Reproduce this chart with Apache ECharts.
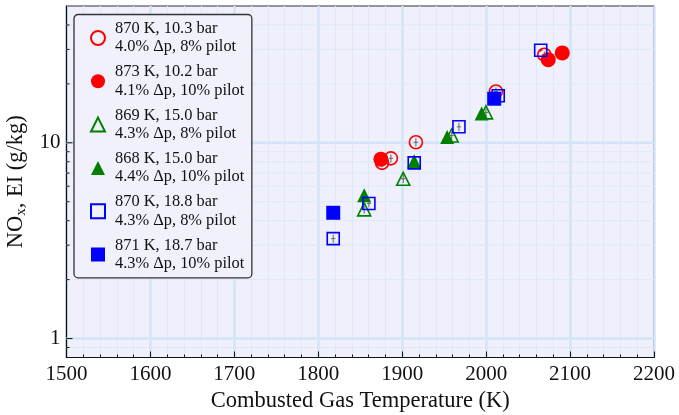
<!DOCTYPE html>
<html><head><meta charset="utf-8">
<script src="https://cdn.jsdelivr.net/npm/echarts@6/dist/echarts.min.js"></script>
<style>html,body{margin:0;padding:0;background:#fff}#c{width:679px;height:415px}</style>
</head><body><div id="c"></div>
<script>
// ---- data ----
const seriesNames = [
  '870 K, 10.3 bar\n4.0% Δp, 8% pilot',
  '873 K, 10.2 bar\n4.1% Δp, 10% pilot',
  '869 K, 15.0 bar\n4.3% Δp, 8% pilot',
  '868 K, 15.0 bar\n4.4% Δp, 10% pilot',
  '870 K, 18.8 bar\n4.3% Δp, 8% pilot',
  '871 K, 18.7 bar\n4.3% Δp, 10% pilot'
];
// [temperature K, NOx EI g/kg]
const openRed    = [[1876, 7.9], [1886.5, 8.33], [1916.3, 10.07], [2011.7, 18.3], [2069.3, 28.2]];
const filledRed  = [[1874.6, 8.25], [2074, 26.6], [2090.7, 28.8]];
const openGreen  = [[1854.7, 4.57], [1901.2, 6.55], [1958.9, 10.9], [1999.8, 14.3]];
const filledGreen= [[1854.7, 5.39], [1914.3, 8.06], [1953.6, 10.7], [1994.6, 14.1]];
const openBlue   = [[1817.8, 3.24], [1860.3, 4.9], [1914.3, 7.9], [1967.6, 12.07], [2014.4, 17.4], [2065, 29.7]];
const filledBlue = [[1817.8, 4.39], [2009.6, 16.8]];
// estimated error bars (NOx EI, +/- g/kg) for open-marker points
const openRedErr   = [0.4, 0.4, 0.5, 0.9, 1.0];
const openGreenErr = [0.22, 0.32, 0.5, 0.6];
const openBlueErr  = [0.16, 0.22, 0.35, 0.6, 0.5, 0.6];
const xTicks = [1500, 1600, 1700, 1800, 1900, 2000, 2100, 2200];
const yMajorTicks = [1, 10];
const yMinorTicks = [0.9, 2, 3, 4, 5, 6, 7, 8, 9, 20, 30, 40];

const FONT = 'Liberation Serif';
const RED = '#ff0000', GREEN = '#008000', BLUE = '#0000ff';
const X0 = xTicks[0];

function errData(pts, errs) { return pts.map((p, i) => [p[0], p[1], errs[i]]); }
const errAll = [].concat(errData(openRed, openRedErr), errData(openGreen, openGreenErr), errData(openBlue, openBlueErr));

const yGridData = yMajorTicks.map(v => [X0, v, 1]).concat(yMinorTicks.map(v => [X0, v, 0]));

function scatter(name, data, symbol, color, open, size) {
  return {
    name, type: 'scatter', data, symbol, symbolSize: size, z: 5,
    itemStyle: open ? { color: 'rgba(0,0,0,0)', borderColor: color, borderWidth: 1.6, opacity: 1 }
                    : { color: color, borderWidth: 0, opacity: 1 },
    emphasis: { disabled: true }
  };
}

const chart = echarts.init(document.getElementById('c'), null, { renderer: 'canvas' });
chart.setOption({
  animation: false,
  backgroundColor: '#ffffff',
  grid: { left: 66.5, right: 25, top: 6, bottom: 57.5, containLabel: false, outerBoundsMode: 'none',
          show: true, backgroundColor: '#eff0fb', borderColor: '#333', borderWidth: 1.2 },
  xAxis: {
    type: 'value', min: xTicks[0], max: xTicks[xTicks.length - 1], interval: 100,
    name: 'Combusted Gas Temperature (K)', nameLocation: 'middle', nameGap: 30,
    nameTextStyle: { fontFamily: FONT, fontSize: 22.5, color: '#111' },
    axisLine: { show: true, lineStyle: { color: '#111', width: 1.2 } },
    axisTick: { show: true, inside: true, length: 6, lineStyle: { color: '#111', width: 1 } },
    minorTick: { show: true, splitNumber: 5, length: 3, lineStyle: { color: '#111', width: 1 } },
    axisLabel: { fontFamily: FONT, fontSize: 21, color: '#111', margin: 6, formatter: v => String(v) },
    splitLine: { show: true, lineStyle: { color: '#d3e4f8', width: 2.5 } },
    minorSplitLine: { show: true, lineStyle: { color: '#dde9f9', width: 1 } }
  },
  yAxis: {
    type: 'log', logBase: 10, min: 0.8, max: 50,
    name: '{a|NO}{s|x}{a|, EI (g/kg)}', nameLocation: 'middle', nameGap: 33,
    nameTextStyle: { color: '#111', rich: {
      a: { fontFamily: FONT, fontSize: 22.5, color: '#111' },
      s: { fontFamily: FONT, fontSize: 15, color: '#111', padding: [10, 0, 0, 0] }
    } },
    axisLine: { show: true, lineStyle: { color: '#111', width: 1.2 } },
    axisTick: { show: false },
    splitLine: { show: false },
    axisLabel: { fontFamily: FONT, fontSize: 21, color: '#111', margin: 6, showMinLabel: false, showMaxLabel: false,
      formatter: v => { const r = Math.round(v); return (Math.abs(v - r) < 1e-6 && yMajorTicks.indexOf(r) >= 0) ? String(r) : ''; } }
  },
  legend: {
    orient: 'vertical', left: 74, top: 14.5,
    data: seriesNames,
    itemWidth: 14, itemHeight: 14, itemGap: 6.7,
    padding: [5.2, 7.5, 5, 16],
    backgroundColor: '#f0f1fb', borderColor: '#333', borderWidth: 1.3, borderRadius: 4,
    textStyle: { fontFamily: FONT, fontSize: 16.4, lineHeight: 18.3, color: '#111', padding: [0, 0, 0, 5] },
    selectedMode: false
  },
  series: [
    {
      type: 'custom', z: 1, silent: true, data: yGridData, clip: false,
      renderItem: (params, api) => {
        const cs = params.coordSys;
        const p = api.coord([api.value(0), api.value(1)]);
        const major = api.value(2) === 1;
        return { type: 'group', children: [
          { type: 'line', shape: { x1: cs.x, y1: p[1], x2: cs.x + cs.width, y2: p[1] },
            style: { stroke: major ? '#d3e4f8' : '#dde9f9', lineWidth: major ? 2.5 : 1 } },
          { type: 'line', z2: 10, shape: { x1: cs.x, y1: p[1], x2: cs.x + (major ? 6 : 3), y2: p[1] },
            style: { stroke: '#111', lineWidth: 1 } }
        ] };
      }
    },
    {
      type: 'custom', z: 2, silent: true, data: errAll,
      renderItem: (params, api) => {
        const x = api.value(0), y = api.value(1), e = api.value(2);
        const top = api.coord([x, y + e]), bot = api.coord([x, y - e]);
        const l = api.coord([x - 2.5, y]), r = api.coord([x + 2.5, y]);
        return { type: 'group', children: [
          { type: 'line', shape: { x1: top[0], y1: top[1], x2: bot[0], y2: bot[1] }, style: { stroke: '#666', lineWidth: 1 } },
          { type: 'line', shape: { x1: l[0], y1: l[1], x2: r[0], y2: r[1] }, style: { stroke: '#666', lineWidth: 1 } }
        ] };
      }
    },
    scatter(seriesNames[0], openRed, 'circle', RED, true, 13),
    scatter(seriesNames[1], filledRed, 'circle', RED, false, 15),
    scatter(seriesNames[2], openGreen, 'triangle', GREEN, true, 13),
    scatter(seriesNames[3], filledGreen, 'triangle', GREEN, false, 14),
    scatter(seriesNames[4], openBlue, 'rect', BLUE, true, 12),
    scatter(seriesNames[5], filledBlue, 'rect', BLUE, false, 14)
  ]
});
</script>
</body></html>
